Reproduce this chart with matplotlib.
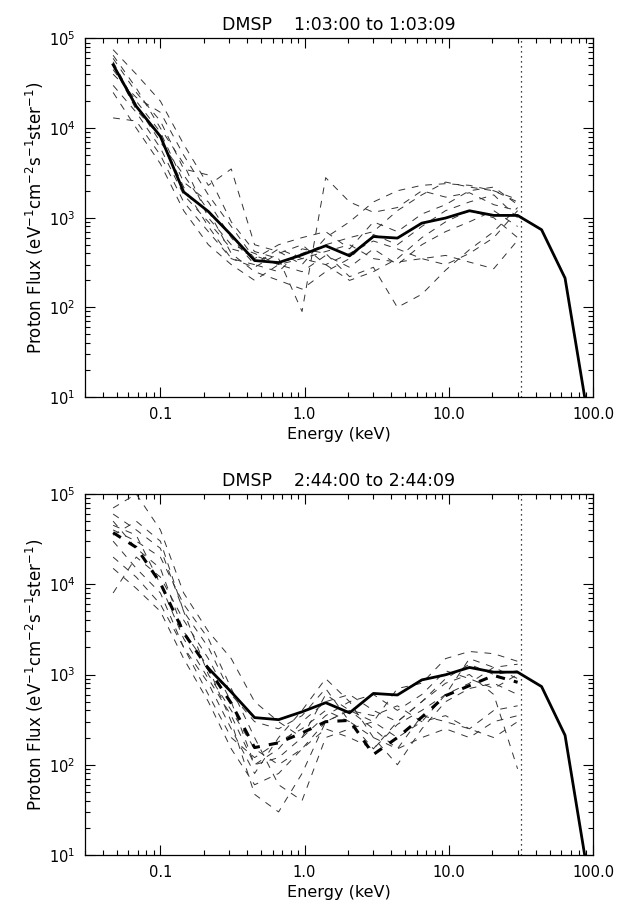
import numpy as np
from matplotlib import pyplot as plt
from matplotlib import ticker

# channel centre energies (keV)
energy = [0.047, 0.068, 0.10, 0.145, 0.215, 0.31, 0.45, 0.66, 0.96, 1.4,
          2.05, 3.0, 4.4, 6.5, 9.5, 13.9, 20.5, 30.0]
# reference spectrum, extended past the top channel
ref_energy = energy + [44.0, 64.0, 94.0]
ref_flux = [51000, 17500, 8100, 1940, 1175, 640, 333, 316, 386, 487,
            376, 617, 593, 871, 993, 1197, 1062, 1062, 735, 212, 5]
cutoff_energy = 31.6

# 1:03:00 - 1:03:09 individual spectra
top_spectra = [
    [75000, 40000, 20000, 6600, 2300, 3500, 500, 420, 300, 600, 900, 1500, 2000, 2300, 2400, 2300, 2000, 1600],
    [60000, 25000, 12000, 3500, 3000, 900, 420, 350, 90, 2800, 1500, 1150, 1300, 2000, 1700, 1900, 1400, 1200],
    [45000, 20000, 9000, 2500, 1500, 600, 300, 250, 450, 400, 220, 280, 100, 140, 260, 440, 700, 1300],
    [30000, 15000, 6000, 1800, 900, 450, 380, 300, 350, 420, 500, 350, 320, 350, 380, 320, 270, 560],
    [55000, 18000, 7000, 3000, 1200, 400, 250, 200, 160, 250, 350, 650, 500, 800, 1200, 1500, 1800, 1000],
    [13000, 12000, 5000, 1500, 700, 350, 280, 400, 500, 300, 200, 250, 350, 600, 900, 1200, 1000, 600],
    [40000, 22000, 15000, 5000, 1800, 800, 350, 500, 600, 700, 450, 900, 700, 1100, 1400, 2000, 2200, 1400],
    [25000, 10000, 4000, 1200, 500, 300, 200, 300, 250, 380, 280, 450, 300, 500, 700, 900, 1200, 800],
    [65000, 28000, 10000, 4000, 1000, 500, 400, 300, 400, 500, 600, 700, 1200, 1800, 2500, 2200, 2000, 1500],
    [50000, 16000, 8000, 2200, 800, 350, 300, 450, 350, 300, 400, 550, 450, 350, 300, 400, 600, 1200],
]

# 2:44:00 - 2:44:09 individual spectra and their mean
bottom_spectra = [
    [70000, 100000, 40000, 8000, 3000, 1500, 500, 300, 200, 600, 400, 300, 700, 800, 1500, 1800, 1700, 1400],
    [40000, 30000, 20000, 6000, 2500, 700, 200, 60, 40, 200, 250, 300, 200, 300, 600, 1500, 1200, 900],
    [8000, 20000, 12000, 4000, 1500, 500, 100, 150, 300, 500, 600, 400, 300, 500, 900, 1300, 1000, 1100],
    [60000, 40000, 25000, 5000, 1000, 400, 150, 100, 150, 300, 400, 250, 150, 200, 250, 200, 300, 350],
    [30000, 15000, 8000, 2000, 800, 250, 80, 200, 400, 900, 500, 200, 100, 250, 500, 700, 800, 600],
    [50000, 25000, 15000, 3000, 1200, 300, 47, 30, 80, 300, 400, 350, 450, 300, 350, 250, 400, 450],
    [20000, 12000, 6000, 2000, 600, 200, 120, 180, 250, 400, 300, 150, 300, 500, 800, 1000, 600, 90],
    [45000, 35000, 10000, 2500, 900, 350, 100, 120, 200, 350, 500, 600, 400, 600, 1100, 900, 700, 1000],
    [35000, 50000, 30000, 5000, 2000, 600, 300, 250, 350, 700, 300, 200, 150, 350, 300, 250, 200, 300],
    [15000, 9000, 5000, 1500, 500, 150, 60, 80, 150, 250, 200, 150, 280, 400, 600, 800, 1200, 1300],
]
bottom_mean = [37300, 25600, 10300, 2900, 1160, 480, 155, 175, 225, 300,
               310, 130, 200, 337, 582, 753, 975, 820]
bottom_ref_start = 4

titles = ["DMSP    1:03:00 to 1:03:09", "DMSP    2:44:00 to 2:44:09"]
xtick_values = [0.1, 1.0, 10.0, 100.0]
xtick_labels = ["0.1", "1.0", "10.0", "100.0"]

plt.rcParams["font.family"] = "DejaVu Sans"
plt.rcParams["font.size"] = 10

W, H = 618, 905


def style_axes(ax, title):
    ax.set_xscale("log")
    ax.set_yscale("log")
    ax.set_xlim(0.03, 100.0)
    ax.set_ylim(10, 1e5)
    ax.xaxis.set_major_locator(ticker.FixedLocator(xtick_values))
    ax.xaxis.set_major_formatter(ticker.FixedFormatter(xtick_labels))
    ax.xaxis.set_minor_locator(ticker.LogLocator(base=10, subs=np.arange(2, 10)))
    ax.xaxis.set_minor_formatter(ticker.NullFormatter())
    ax.yaxis.set_major_locator(ticker.LogLocator(base=10))
    ax.yaxis.set_minor_locator(ticker.LogLocator(base=10, subs=np.arange(2, 10)))
    ax.yaxis.set_major_formatter(ticker.LogFormatterSciNotation())
    ax.yaxis.set_minor_formatter(ticker.NullFormatter())
    ax.tick_params(which="both", direction="in", top=True, right=True, width=0.8, colors="black")
    ax.tick_params(which="major", length=7, pad=7, labelsize=10.5)
    ax.tick_params(which="minor", length=3.5)
    for spine in ax.spines.values():
        spine.set_linewidth(0.9)
    ax.set_xlabel("Energy (keV)", fontsize=11.5, labelpad=4)
    ax.set_ylabel(r"Proton Flux (eV$^{-1}$cm$^{-2}$s$^{-1}$ster$^{-1}$)", fontsize=12, labelpad=2)
    ax.set_title(title, fontsize=12.5, pad=6)


fig = plt.figure(figsize=(W / 100, H / 100), dpi=100)
fig.patch.set_facecolor("white")
ax_top = fig.add_axes([85 / W, 1 - 397 / H, 508 / W, 358.5 / H])
ax_bot = fig.add_axes([85 / W, 1 - 855 / H, 508 / W, 361 / H])

for spectrum in top_spectra:
    ax_top.plot(energy, spectrum, color="0.2", linewidth=0.7, linestyle=(0, (7, 7)))
ax_top.plot(ref_energy, ref_flux, color="black", linewidth=2.0)
ax_top.axvline(cutoff_energy, color="black", linewidth=0.9, linestyle=(0, (1, 3)))
style_axes(ax_top, titles[0])

for spectrum in bottom_spectra:
    ax_bot.plot(energy, spectrum, color="0.2", linewidth=0.7, linestyle=(0, (7, 7)))
ax_bot.plot(ref_energy[bottom_ref_start:], ref_flux[bottom_ref_start:], color="black", linewidth=2.0)
ax_bot.plot(energy, bottom_mean, color="black", linewidth=2.2, linestyle=(0, (3, 3)))
ax_bot.axvline(cutoff_energy, color="black", linewidth=0.9, linestyle=(0, (1, 3)))
style_axes(ax_bot, titles[1])

plt.savefig("out.png", dpi=100)
plt.close(fig)
